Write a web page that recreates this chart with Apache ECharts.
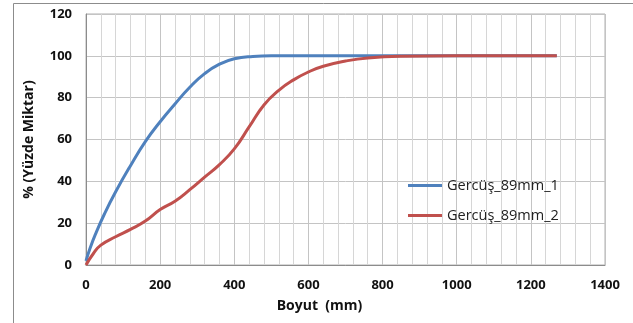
<!DOCTYPE html>
<html lang="tr">
<head>
    <meta charset="UTF-8">
    <title>Gercüş 89mm</title>
    <script src="https://cdn.jsdelivr.net/npm/echarts@6/dist/echarts.min.js"></script>
    <style>
        html, body { margin: 0; padding: 0; background: #fff; }
        #chart { width: 633px; height: 323px; }
    </style>
</head>
<body>
<div id="chart"></div>
<script>
    // seri isimleri
    const seriesNames = ['Gercüş_89mm_1', 'Gercüş_89mm_2'];

    // boyut (mm) - yüzde
    const seri1 = [
        [0, 2], [10, 7.5], [25, 14.5], [50, 24.5], [80, 35], [120, 47.5],
        [160, 59], [200, 68.5], [240, 77], [280, 85], [320, 91.5],
        [360, 96], [400, 98.6], [450, 99.7], [500, 100], [700, 100],
        [1000, 100], [1270, 100]
    ];
    const seri2 = [
        [0, 0], [20, 5.5], [40, 9.5], [80, 13.5], [120, 17], [160, 21], [200, 26.5],
        [240, 30.5], [280, 36], [320, 42], [360, 48], [400, 55.5], [440, 66],
        [480, 76.5], [520, 83.5], [560, 88.5], [600, 92.3], [640, 95], [700, 97.5],
        [760, 99], [850, 99.8], [1000, 100], [1270, 100]
    ];

    const colors = ['#4F81BD', '#C0504D'];
    const fontFam = '"Open Sans", "DejaVu Sans", sans-serif';

    var chart = echarts.init(document.getElementById('chart'));
    chart.setOption({
        animation: false,
        graphic: [{
            type: 'rect',
            shape: { x: 13.5, y: 3.5, width: 640, height: 340 },
            style: { fill: 'none', stroke: '#8c8c8c', lineWidth: 1 },
            silent: true
        }],
        grid: { left: 86, right: 28, top: 14, bottom: 58, show: true, borderColor: '#b0b0b0', borderWidth: 1 },
        legend: {
            orient: 'vertical',
            left: 403,
            top: 173,
            itemWidth: 34,
            itemHeight: 14,
            itemGap: 15,
            data: seriesNames.map(n => ({ name: n, icon: 'path://M0,6 L34,6 L34,9 L0,9 Z' })),
            textStyle: { fontFamily: fontFam, fontSize: 14.5, color: '#222' }
        },
        xAxis: {
            type: 'value',
            min: 0, max: 1400, interval: 200,
            name: 'Boyut  (mm)',
            nameLocation: 'middle',
            nameGap: 34,
            nameTextStyle: { fontFamily: fontFam, fontSize: 14, fontWeight: 'bold', color: '#111', padding: [0, 52, 0, 0] },
            axisLine: { show: true, lineStyle: { color: '#8c8c8c' } },
            axisTick: { show: false },
            axisLabel: { fontFamily: fontFam, fontSize: 13, fontWeight: 'bold', color: '#111', margin: 14, formatter: v => String(v) },
            splitLine: { show: true, lineStyle: { color: '#c4c4c4' } },
            minorTick: { show: false, splitNumber: 5 },
            minorSplitLine: { show: true, lineStyle: { color: '#d6d6d6' } }
        },
        yAxis: {
            type: 'value',
            min: 0, max: 120, interval: 20,
            name: '% (Yüzde Miktar)',
            nameLocation: 'middle',
            nameGap: 50,
            nameTextStyle: { fontFamily: fontFam, fontSize: 14, fontWeight: 'bold', color: '#111' },
            axisLine: { show: true, lineStyle: { color: '#8c8c8c' } },
            axisTick: { show: false },
            axisLabel: { fontFamily: fontFam, fontSize: 13, fontWeight: 'bold', color: '#111', margin: 14 },
            splitLine: { show: true, lineStyle: { color: '#c4c4c4' } }
        },
        series: [seri1, seri2].map((d, i) => ({
            name: seriesNames[i],
            type: 'line',
            data: d,
            smooth: 0.5,
            showSymbol: false,
            itemStyle: { color: colors[i] },
            lineStyle: { color: colors[i], width: 3 }
        }))
    });
</script>
</body>
</html>
